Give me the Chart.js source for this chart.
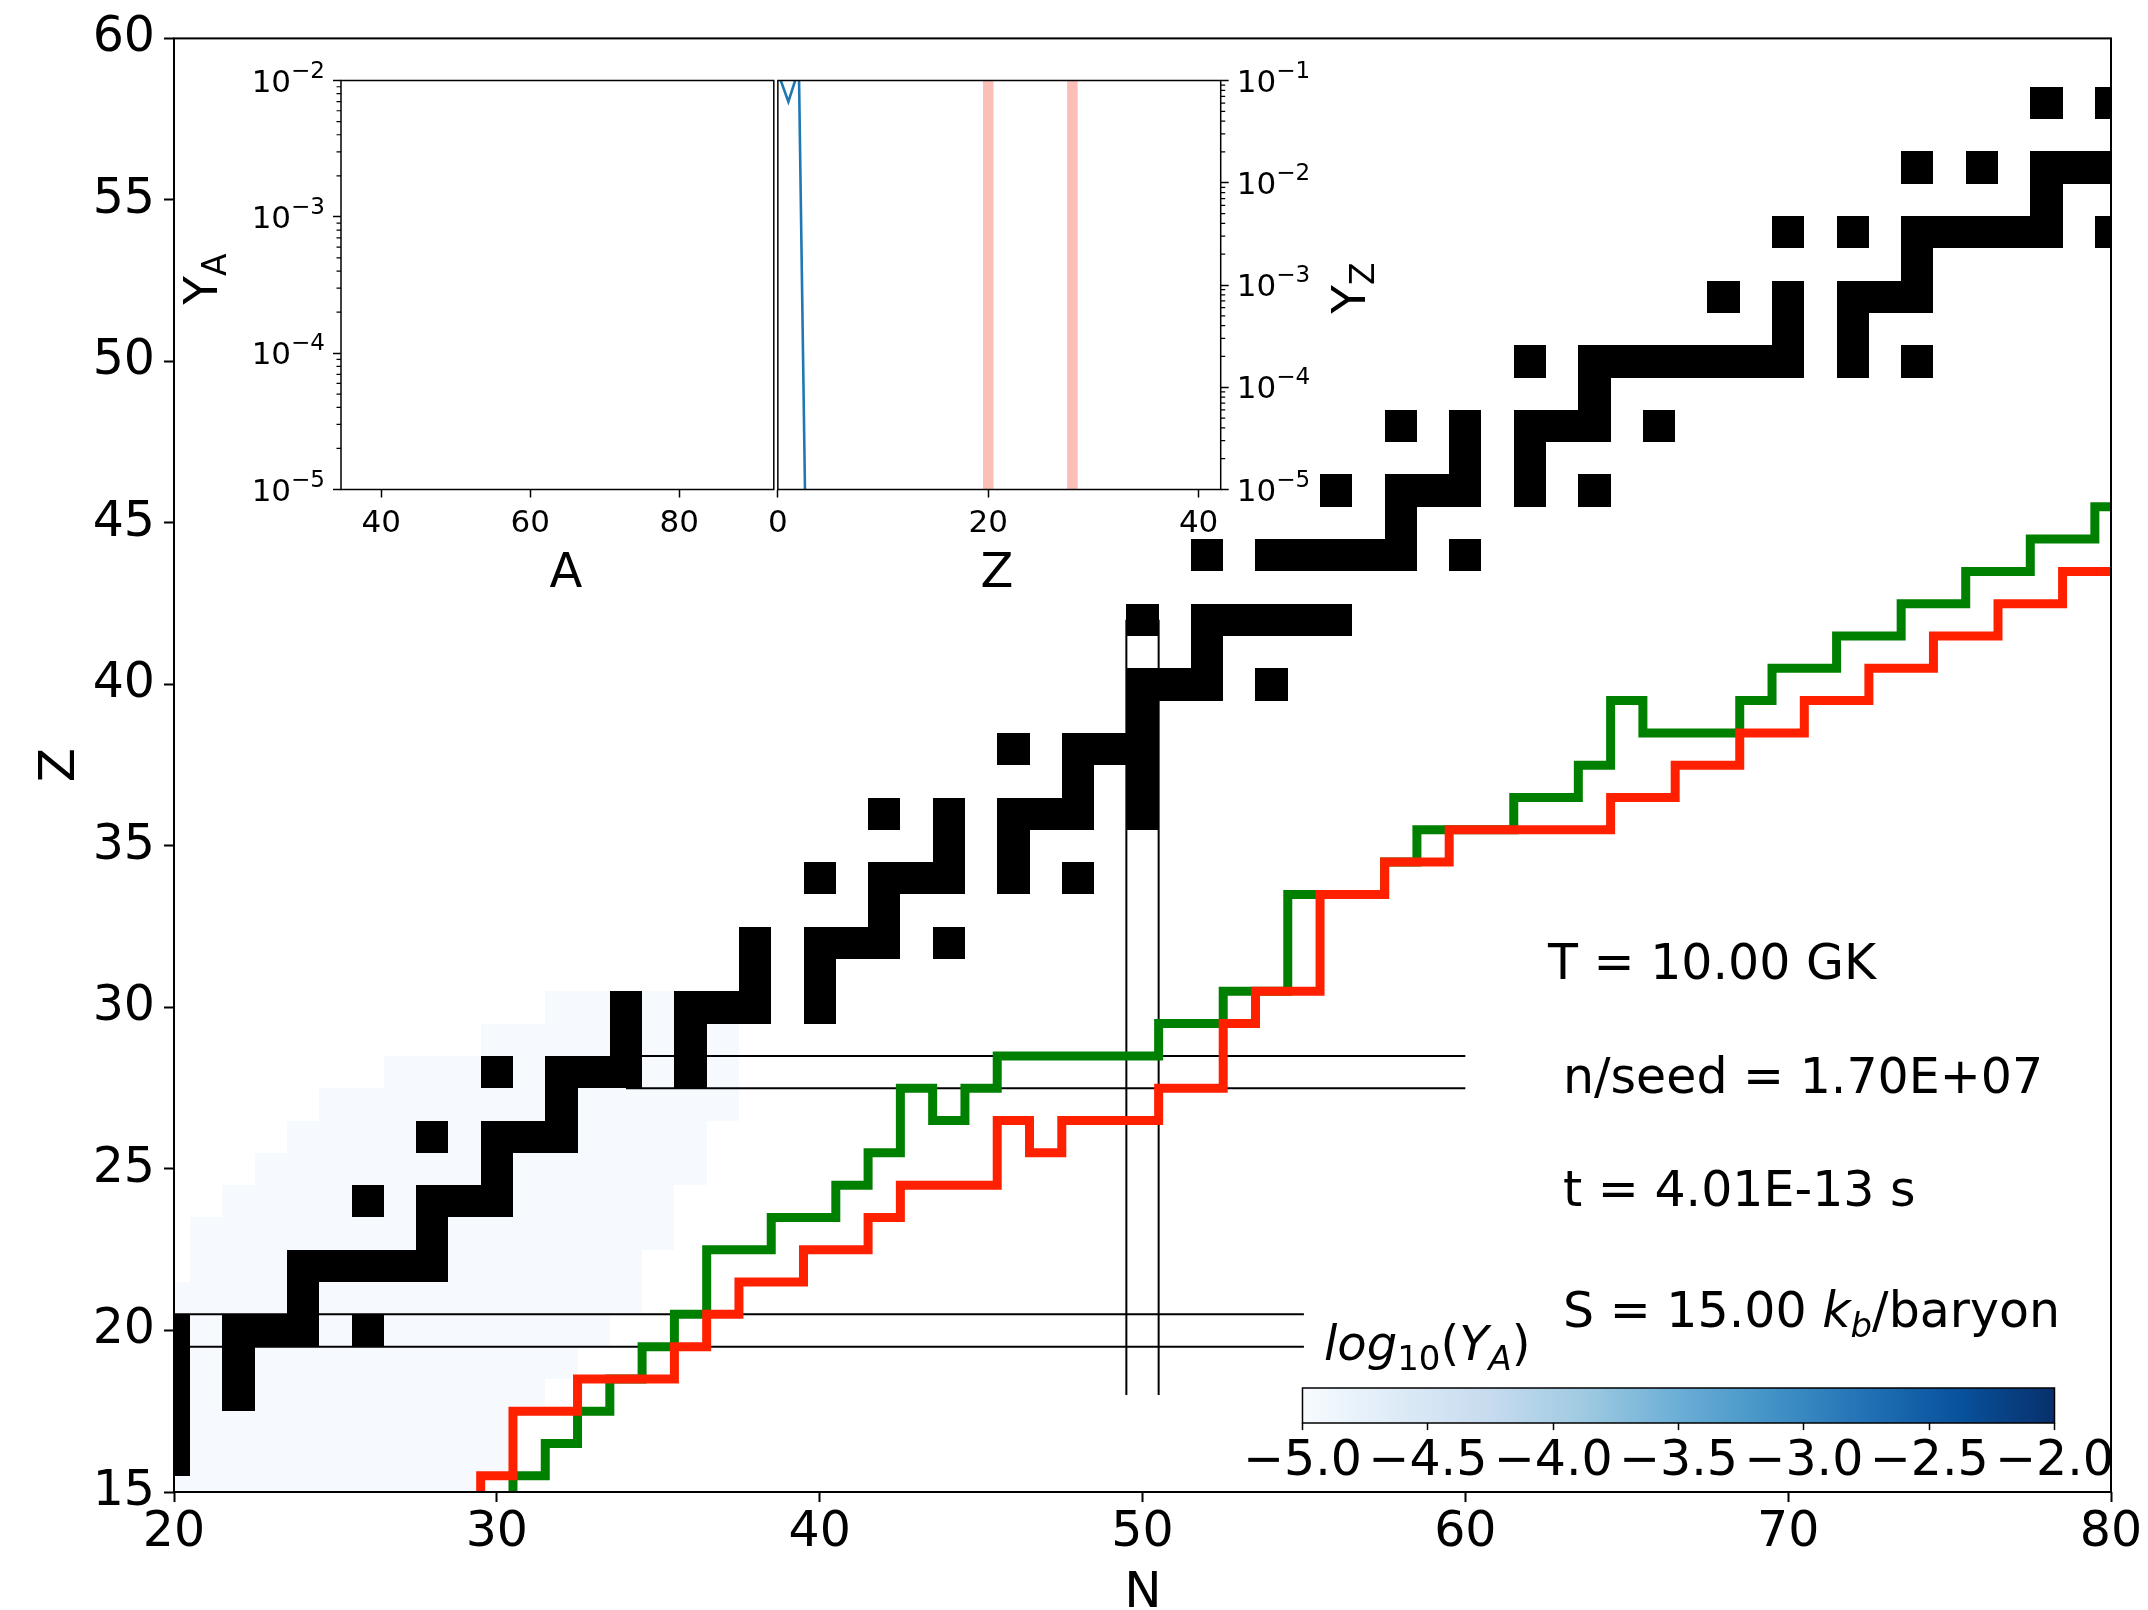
<!DOCTYPE html>
<html lang="en">
<head>
<meta charset="UTF-8">
<title>Nuclide chart, T = 10 GK</title>
<script src="https://cdn.jsdelivr.net/npm/chart.js"></script>
<style>
  body { margin: 0; background: #fff; }
  #wrap { position: relative; width: 2148px; height: 1610px; overflow: hidden; }
  #wrap canvas { position: absolute; }
</style>
</head>
<body>
<div id="wrap">
  <canvas id="mainChart" width="2148" height="1610" style="left:0;top:0"></canvas>
  <canvas id="insetA" width="640" height="560" style="left:150px;top:40px"></canvas>
  <canvas id="insetZ" width="580" height="560" style="left:760px;top:40px"></canvas>
  <canvas id="cbar" width="880" height="120" style="left:1240px;top:1380px"></canvas>
</div>
<script>
// ---------- data ----------
const nTicks = [20, 30, 40, 50, 60, 70, 80];
const zTicks = [15, 20, 25, 30, 35, 40, 45, 50, 55, 60];

// stable nuclei: [Z, [N...]]
const stableRows = [
  [16, [20]], [17, [20]], [18, [20, 22]], [19, [20, 22]],
  [20, [20, 22, 23, 24, 26]], [21, [24]], [22, [24, 25, 26, 27, 28]], [23, [28]],
  [24, [26, 28, 29, 30]], [25, [30]], [26, [28, 30, 31, 32]], [27, [32]],
  [28, [30, 32, 33, 34, 36]], [29, [34, 36]], [30, [34, 36, 37, 38, 40]], [31, [38, 40]],
  [32, [38, 40, 41, 42, 44]], [33, [42]], [34, [40, 42, 43, 44, 46, 48]], [35, [44, 46]],
  [36, [42, 44, 46, 47, 48, 50]], [37, [48, 50]], [38, [46, 48, 49, 50]], [39, [50]],
  [40, [50, 51, 52, 54]], [41, [52]], [42, [50, 52, 53, 54, 55, 56]],
  [44, [52, 54, 55, 56, 57, 58, 60]], [45, [58]], [46, [56, 58, 59, 60, 62, 64]], [47, [60, 62]],
  [48, [58, 60, 62, 63, 64, 66]], [49, [64]], [50, [62, 64, 65, 66, 67, 68, 69, 70, 72, 74]],
  [51, [70, 72]], [52, [68, 70, 72, 73, 74]], [53, [74]], [54, [70, 72, 74, 75, 76, 77, 78, 80]],
  [55, [78]], [56, [74, 76, 78, 79, 80]], [58, [78, 80]]
];

// faint abundance cells: [Z, Nmin, Nmax] and their log10(Y_A)
const faintRows = [
  [15, 20, 29], [16, 20, 30], [17, 20, 30], [18, 20, 31], [19, 20, 32], [20, 20, 33],
  [21, 20, 34], [22, 21, 34], [23, 21, 35], [24, 22, 35], [25, 23, 36], [26, 24, 36],
  [27, 25, 37], [28, 27, 37], [29, 30, 37], [30, 32, 37]
];
const faintLogY = [-4.98, -4.98, -4.98, -4.98, -4.98, -4.98, -4.98, -4.98,
                   -4.98, -4.98, -4.98, -4.98, -4.98, -4.98, -4.985, -4.985];

// step lines: top edge (Z + 1/2) for each N
const stepN = [29, 30, 31, 32, 33, 34, 35, 36, 37, 38, 39, 40, 41, 42, 43, 44, 45, 46, 47, 48,
               49, 50, 51, 52, 53, 54, 55, 56, 57, 58, 59, 60, 61, 62, 63, 64, 65, 66, 67, 68,
               69, 70, 71, 72, 73, 74, 75, 76, 77, 78, 79, 80];
const greenZ = [null, 14.5, 15.5, 16.5, 17.5, 18.5, 19.5, 20.5, 22.5, 22.5, 23.5, 23.5, 24.5, 25.5,
                27.5, 26.5, 27.5, 28.5, 28.5, 28.5, 28.5, 28.5, 29.5, 29.5, 30.5, 30.5, 33.5, 33.5,
                33.5, 34.5, 35.5, 35.5, 35.5, 36.5, 36.5, 37.5, 39.5, 38.5, 38.5, 38.5, 39.5, 40.5,
                40.5, 41.5, 41.5, 42.5, 42.5, 43.5, 43.5, 44.5, 44.5, 45.5];
const redZ = [14.5, 15.5, 17.5, 17.5, 18.5, 18.5, 18.5, 19.5, 20.5, 21.5, 21.5, 22.5, 22.5, 23.5,
              24.5, 24.5, 24.5, 26.5, 25.5, 26.5, 26.5, 26.5, 27.5, 27.5, 29.5, 30.5, 30.5, 33.5,
              33.5, 34.5, 34.5, 35.5, 35.5, 35.5, 35.5, 35.5, 36.5, 36.5, 37.5, 37.5, 38.5, 38.5,
              39.5, 39.5, 40.5, 40.5, 41.5, 41.5, 42.5, 42.5, 43.5, 43.5];

// magic-number guide lines
const magicZ = [20, 28];
const magicZSpan = [[20, 55], [34, 60]];
const magicN = [50];
const magicNSpan = [[18, 42]];

// inset
const aTicks = [40, 60, 80];
const insetZTicks = [0, 20, 40];
const yaDecades = [1e-5, 1e-4, 1e-3, 1e-2];
const yzDecades = [1e-5, 1e-4, 1e-3, 1e-2, 1e-1];
const yzZ = [0, 1, 2, 3];
const yzVal = [0.12, 0.062, 0.13, 1e-8];
const zBands = [20, 28];

// colour bar
const cbarTicks = [-5, -4.5, -4, -3.5, -3, -2.5, -2];
const bluesStops = ['#f7fbff', '#deebf7', '#c6dbef', '#9ecae1', '#6baed6',
                    '#4292c6', '#2171b5', '#08519c', '#08306b'];

// ---------- helpers ----------
const FONT = '"DejaVu Sans", sans-serif';
Chart.defaults.font.family = FONT;
Chart.defaults.color = '#000';

function hexRgb(h) { return [1, 3, 5].map(i => parseInt(h.slice(i, i + 2), 16)); }
function bluesColor(v) {
  const t = Math.min(1, Math.max(0, (v + 5) / 3)) * (bluesStops.length - 1);
  const i = Math.min(bluesStops.length - 2, Math.floor(t)), f = t - i;
  const a = hexRgb(bluesStops[i]), b = hexRgb(bluesStops[i + 1]);
  return 'rgb(' + a.map((c, k) => Math.round(c + (b[k] - c) * f)).join(',') + ')';
}
function fixTicks(list) { return s => { s.ticks = list.map(v => ({ value: v })); }; }
function fnt(size, italic) { return (italic ? 'italic ' : '') + size + 'px ' + FONT; }

function baseOpts(padding, scales, extra) {
  return Object.assign({
    responsive: false, animation: false, devicePixelRatio: 1, events: [],
    layout: { padding },
    plugins: { legend: { display: false }, tooltip: { enabled: false } },
    scales
  }, extra || {});
}
function tickGrid(len, w) {
  return { drawOnChartArea: false, drawTicks: true, tickLength: len, tickWidth: w, tickColor: '#000' };
}

function withClip(chart, fn) {
  const { ctx, chartArea: a, scales } = chart;
  ctx.save();
  ctx.beginPath();
  ctx.rect(a.left, a.top, a.right - a.left, a.bottom - a.top);
  ctx.clip();
  fn(ctx, scales.x, scales.y);
  ctx.restore();
}
function cellRect(ctx, x, y, nLo, nHi, z) {
  const x0 = Math.round(x.getPixelForValue(nLo)), x1 = Math.round(x.getPixelForValue(nHi));
  const y0 = Math.round(y.getPixelForValue(z + 0.5)), y1 = Math.round(y.getPixelForValue(z - 0.5));
  ctx.fillRect(x0, y0, x1 - x0, y1 - y0);
}

// draw a run of text pieces (for sub/superscripts); rot in radians about (x, y)
function drawRich(ctx, runs, x, y, align, rot) {
  ctx.save();
  ctx.translate(x, y);
  if (rot) ctx.rotate(rot);
  ctx.textBaseline = 'alphabetic';
  ctx.textAlign = 'left';
  let total = 0;
  runs.forEach(r => { ctx.font = fnt(r.size, r.italic); r.w = ctx.measureText(r.t).width; total += r.w; });
  let cx = align === 'center' ? -total / 2 : align === 'right' ? -total : 0;
  runs.forEach(r => {
    ctx.font = fnt(r.size, r.italic);
    ctx.fillText(r.t, cx, r.dy || 0);
    cx += r.w;
  });
  ctx.restore();
}

function framePlugin(width) {
  return {
    id: 'frame',
    afterDraw(chart) {
      const { ctx, chartArea: a } = chart;
      ctx.save();
      ctx.strokeStyle = '#000';
      ctx.lineWidth = width;
      ctx.strokeRect(a.left, a.top, a.right - a.left, a.bottom - a.top);
      ctx.restore();
    }
  };
}

// ---------- main chart ----------
function lineSet(points, label, color, width, order, stepped) {
  return {
    label, data: points, borderColor: color, borderWidth: width, pointRadius: 0,
    fill: false, tension: 0, stepped: stepped || false, order,
    borderCapStyle: 'butt', borderJoinStyle: 'miter'
  };
}
function stepData(vals) {
  return stepN.map((n, i) => vals[i] == null ? null : { x: n, y: vals[i] }).filter(Boolean);
}

const datasets = [];
magicZ.forEach((z, i) => {
  [z - 0.5, z + 0.5].forEach(zz => datasets.push(lineSet(
    [{ x: magicZSpan[i][0], y: zz }, { x: magicZSpan[i][1], y: zz }], 'magic', '#000', 2, 3)));
});
magicN.forEach((n, i) => {
  [n - 0.5, n + 0.5].forEach(nn => datasets.push(lineSet(
    [{ x: nn, y: magicNSpan[i][0] }, { x: nn, y: magicNSpan[i][1] }], 'magic', '#000', 2, 3)));
});
datasets.push(lineSet(stepData(greenZ), 'green', '#008000', 9, 2, 'middle'));
datasets.push(lineSet(stepData(redZ), 'red', '#ff2000', 9, 1, 'middle'));

const nuclidePlugin = {
  id: 'nuclides',
  beforeDatasetsDraw(chart) {
    withClip(chart, (ctx, x, y) => {
      faintRows.forEach(([z, n0, n1], i) => {
        ctx.fillStyle = bluesColor(faintLogY[i]);
        cellRect(ctx, x, y, n0 - 0.5, n1 + 0.5, z);
      });
    });
  },
  beforeDatasetDraw(chart, args) {
    if (chart.data.datasets[args.index].label !== 'green') return;
    withClip(chart, (ctx, x, y) => {
      ctx.fillStyle = '#000';
      stableRows.forEach(([z, ns]) => ns.forEach(n => cellRect(ctx, x, y, n - 0.5, n + 0.5, z)));
    });
  }
};

const textPlugin = {
  id: 'texts',
  afterDraw(chart) {
    const ctx = chart.ctx;
    ctx.fillStyle = '#000';
    // main axis labels
    drawRich(ctx, [{ t: 'N', size: 50 }], 1143, 1607, 'center');
    drawRich(ctx, [{ t: 'Z', size: 50 }], 74, 765, 'center', -Math.PI / 2);
    // inset labels
    drawRich(ctx, [{ t: 'A', size: 48 }], 566, 587, 'center');
    drawRich(ctx, [{ t: 'Z', size: 48 }], 997, 587, 'center');
    drawRich(ctx, [{ t: 'Y', size: 47 }, { t: 'A', size: 33, dy: 9 }], 217, 279, 'center', -Math.PI / 2);
    drawRich(ctx, [{ t: 'Y', size: 47 }, { t: 'Z', size: 33, dy: 9 }], 1365, 288, 'center', -Math.PI / 2);
    // run conditions
    drawRich(ctx, [{ t: 'T = 10.00 GK', size: 49 }], 1548, 979);
    drawRich(ctx, [{ t: 'n/seed = 1.70E+07', size: 49 }], 1563, 1093);
    drawRich(ctx, [{ t: 't = 4.01E-13 s', size: 49 }], 1563, 1206);
    drawRich(ctx, [{ t: 'S = 15.00 ', size: 49 }, { t: 'k', size: 49, italic: true },
                   { t: 'b', size: 34, italic: true, dy: 10 }, { t: '/baryon', size: 49 }], 1563, 1327);
    // colour bar label
    drawRich(ctx, [{ t: 'log', size: 48, italic: true }, { t: '10', size: 34, dy: 10 },
                   { t: '(', size: 48 }, { t: 'Y', size: 48, italic: true },
                   { t: 'A', size: 34, italic: true, dy: 10 }, { t: ')', size: 48 }], 1324, 1360);
  }
};

new Chart(document.getElementById('mainChart'), {
  type: 'line',
  data: { datasets },
  options: baseOpts({ top: 38, right: 37, left: 0, bottom: 0 }, {
    x: {
      type: 'linear', min: 20, max: 80,
      afterBuildTicks: fixTicks(nTicks), afterFit: s => { s.height = 118; },
      ticks: { font: { size: 49 }, padding: 2, autoSkip: false, maxRotation: 0 },
      grid: tickGrid(10, 2), border: { display: false }
    },
    y: {
      type: 'linear', min: 15, max: 60,
      afterBuildTicks: fixTicks(zTicks), afterFit: s => { s.width = 174; },
      ticks: { font: { size: 49 }, padding: 9, autoSkip: false },
      grid: tickGrid(10, 2), border: { display: false }
    }
  }),
  plugins: [nuclidePlugin, framePlugin(2), textPlugin]
});

// ---------- inset helpers: minor log ticks and 10^n labels ----------
function logAxisDecor(side, decades) {
  return {
    id: 'logDecor' + side,
    afterDraw(chart) {
      const { ctx, chartArea: a } = chart, s = chart.scales.y;
      const x0 = side === 'left' ? a.left : a.right;
      const dir = side === 'left' ? -1 : 1;
      ctx.save();
      ctx.strokeStyle = '#000';
      ctx.lineWidth = 1.2;
      ctx.beginPath();
      decades.slice(0, -1).forEach(d => {
        for (let k = 2; k <= 9; k++) {
          const py = s.getPixelForValue(k * d);
          ctx.moveTo(x0, py);
          ctx.lineTo(x0 + dir * 4.5, py);
        }
      });
      ctx.stroke();
      ctx.fillStyle = '#000';
      decades.forEach(d => {
        const py = s.getPixelForValue(d) + 11;
        const e = Math.round(Math.log10(d));
        const runs = [{ t: '10', size: 31 }, { t: '\u2212' + Math.abs(e), size: 23, dy: -14 }];
        if (side === 'left') drawRich(ctx, runs, x0 - 16, py, 'right');
        else drawRich(ctx, runs, x0 + 16, py, 'left');
      });
      ctx.restore();
    }
  };
}

// ---------- inset: Y_A vs A ----------
new Chart(document.getElementById('insetA'), {
  type: 'line',
  data: { datasets: [{ label: 'Y_A', data: [], borderColor: '#1f77b4', pointRadius: 0 }] },
  options: baseOpts({ top: 40.5, right: 16.2, left: 0, bottom: 0 }, {
    x: {
      type: 'linear', min: 34.6, max: 92.7,
      afterBuildTicks: fixTicks(aTicks), afterFit: s => { s.height = 110.5; },
      ticks: { font: { size: 31 }, padding: 8, autoSkip: false, maxRotation: 0 },
      grid: tickGrid(8, 1.5), border: { display: false }
    },
    y: {
      type: 'logarithmic', min: 1e-5, max: 1e-2,
      afterBuildTicks: fixTicks(yaDecades), afterFit: s => { s.width = 191; },
      ticks: { autoSkip: false, callback: () => '' },
      grid: tickGrid(8, 1.5), border: { display: false }
    }
  }),
  plugins: [framePlugin(1.5), logAxisDecor('left', yaDecades)]
});

// ---------- inset: Y_Z vs Z ----------
const bandPlugin = {
  id: 'bands',
  beforeDatasetsDraw(chart) {
    withClip(chart, (ctx, x) => {
      const a = chart.chartArea;
      ctx.fillStyle = 'rgba(250, 128, 114, 0.5)';
      zBands.forEach(z => {
        const x0 = x.getPixelForValue(z - 0.5), x1 = x.getPixelForValue(z + 0.5);
        ctx.fillRect(x0, a.top, x1 - x0, a.bottom - a.top);
      });
    });
  }
};

new Chart(document.getElementById('insetZ'), {
  type: 'line',
  data: {
    datasets: [{
      label: 'Y_Z', data: yzZ.map((z, i) => ({ x: z, y: yzVal[i] })),
      borderColor: '#1f77b4', borderWidth: 2.6, pointRadius: 0, fill: false, tension: 0
    }]
  },
  options: baseOpts({ top: 40.5, right: 0, left: 13.8, bottom: 0 }, {
    x: {
      type: 'linear', min: 0, max: 42.1,
      afterBuildTicks: fixTicks(insetZTicks), afterFit: s => { s.height = 110.5; },
      ticks: { font: { size: 31 }, padding: 8, autoSkip: false, maxRotation: 0 },
      grid: tickGrid(8, 1.5), border: { display: false }
    },
    y: {
      type: 'logarithmic', position: 'right', min: 1e-5, max: 1e-1,
      afterBuildTicks: fixTicks(yzDecades), afterFit: s => { s.width = 119.3; },
      ticks: { autoSkip: false, callback: () => '' },
      grid: tickGrid(8, 1.5), border: { display: false }
    }
  }),
  plugins: [bandPlugin, framePlugin(1.5), logAxisDecor('right', yzDecades)]
});

// ---------- colour bar ----------
const gradientPlugin = {
  id: 'gradient',
  beforeDatasetsDraw(chart) {
    const { ctx, chartArea: a } = chart;
    const g = ctx.createLinearGradient(a.left, 0, a.right, 0);
    bluesStops.forEach((c, i) => g.addColorStop(i / (bluesStops.length - 1), c));
    ctx.save();
    ctx.fillStyle = g;
    ctx.fillRect(a.left, a.top, a.right - a.left, a.bottom - a.top);
    ctx.restore();
  }
};

new Chart(document.getElementById('cbar'), {
  type: 'scatter',
  data: { datasets: [{ label: 'log10(Y_A)', data: [] }] },
  options: baseOpts({ top: 8, right: 65.5, left: 60.5, bottom: 0 }, {
    x: {
      type: 'linear', min: -5, max: -2,
      afterBuildTicks: fixTicks(cbarTicks), afterFit: s => { s.height = 77; },
      ticks: {
        font: { size: 49 }, padding: 3, autoSkip: false, maxRotation: 0,
        callback: v => (v < 0 ? '\u2212' : '') + Math.abs(v).toFixed(1)
      },
      grid: tickGrid(7, 1.5), border: { display: false }
    },
    y: { display: false, min: 0, max: 1 }
  }),
  plugins: [gradientPlugin, framePlugin(1.5)]
});
</script>
</body>
</html>
